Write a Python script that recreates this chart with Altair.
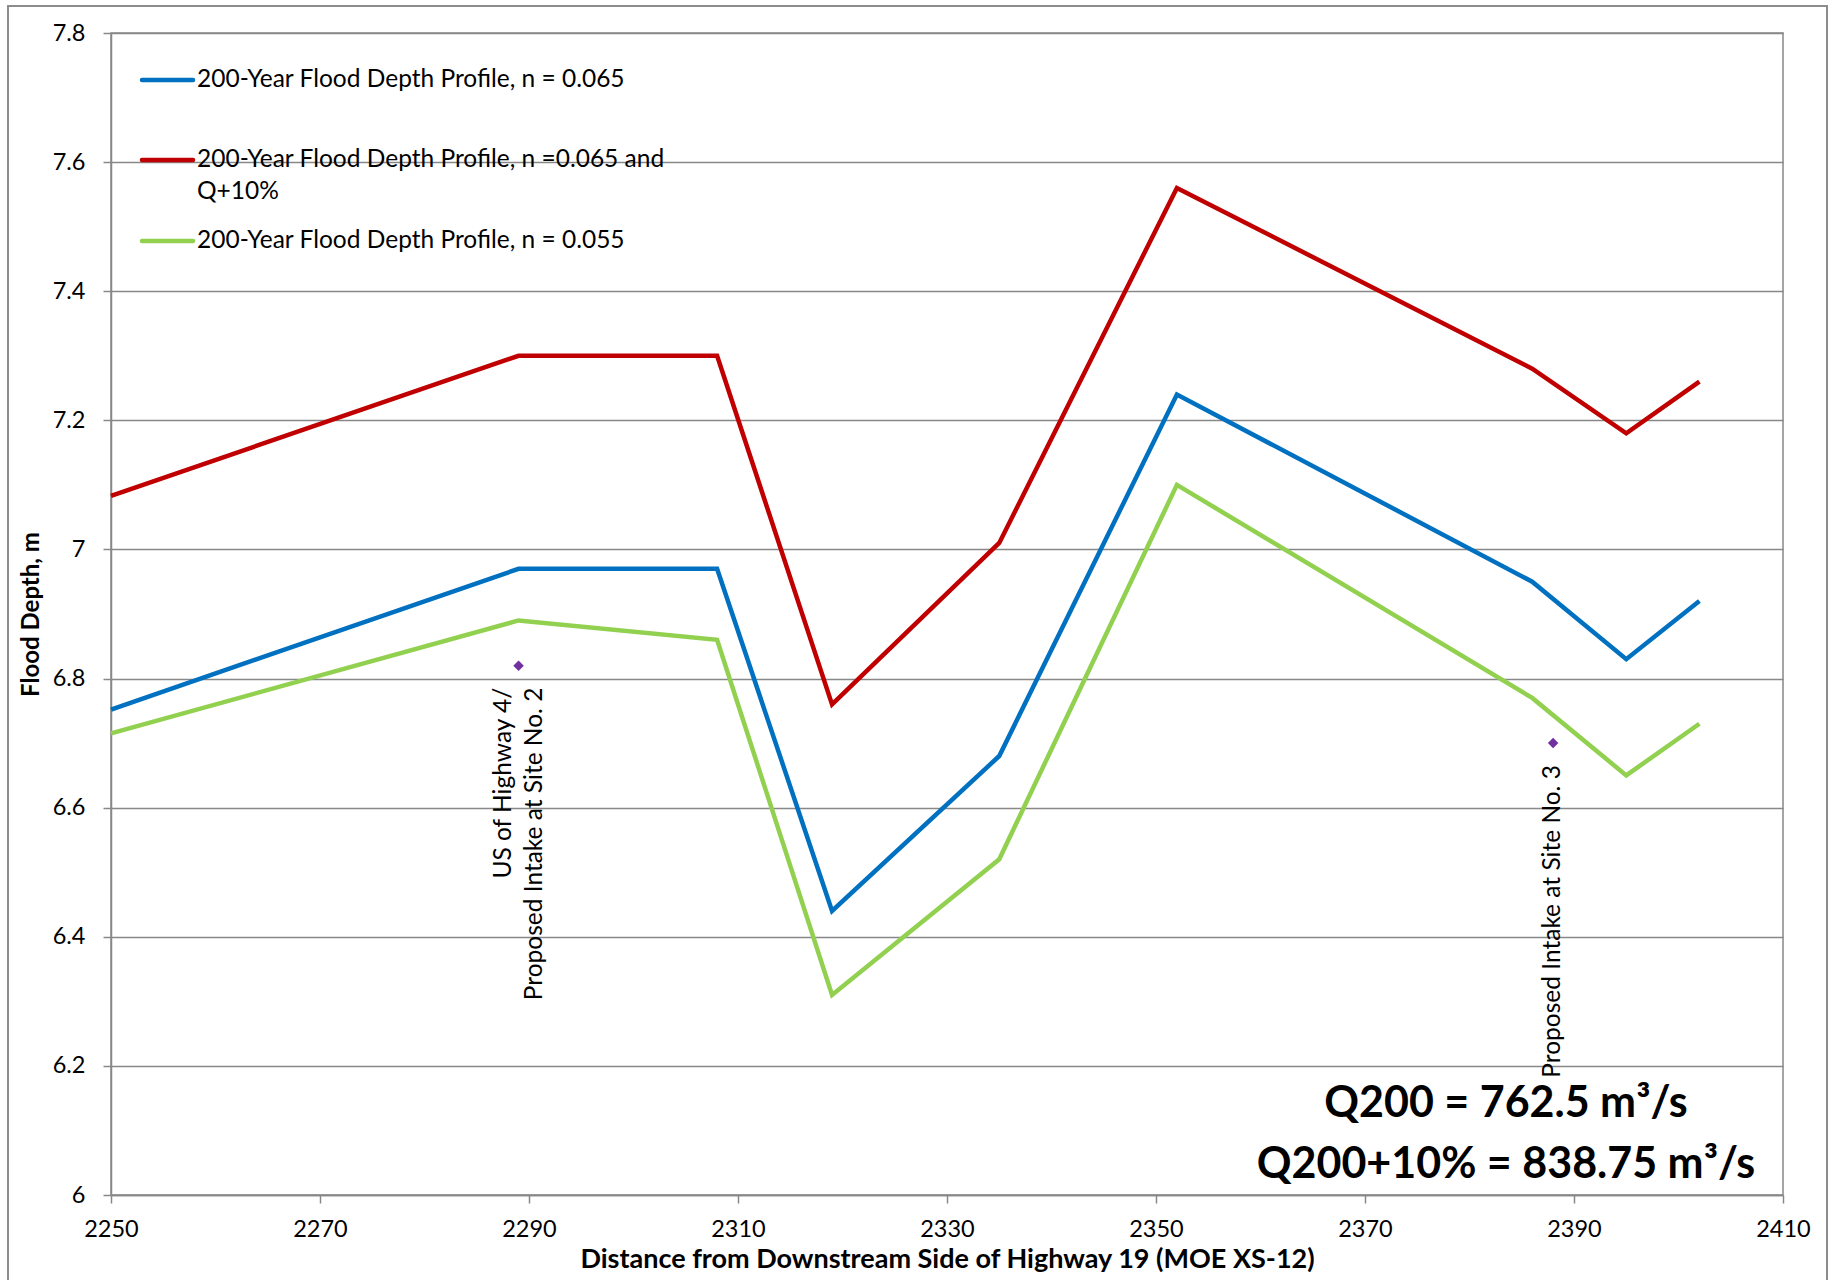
import altair as alt
import pandas as pd

# Flood depth profiles (distance in m, depth in m)
distance = [2250, 2289, 2308, 2319, 2335, 2352, 2386, 2395, 2402]
depth_n065 = [6.752, 6.97, 6.97, 6.44, 6.68, 7.24, 6.95, 6.83, 6.92]
depth_n065_q10 = [7.083, 7.30, 7.30, 6.76, 7.01, 7.56, 7.28, 7.18, 7.26]
depth_n055 = [6.715, 6.89, 6.86, 6.31, 6.52, 7.10, 6.77, 6.65, 6.73]

series_names = [
    "200-Year Flood Depth Profile, n = 0.065",
    "200-Year Flood Depth Profile, n =0.065 and Q+10%",
    "200-Year Flood Depth Profile, n = 0.055",
]
series_colors = ["#0070C0", "#C00000", "#92D050"]
legend_lines = [
    ["200-Year Flood Depth Profile, n = 0.065"],
    ["200-Year Flood Depth Profile, n =0.065 and", "Q+10%"],
    ["200-Year Flood Depth Profile, n = 0.055"],
]

# Site markers
site_x = [2289, 2388]
site_y = [6.82, 6.70]
site_labels = [
    ["US of Highway 4/", "Proposed Intake at Site No. 2"],
    ["Proposed Intake at Site No. 3"],
]

flow_lines = ["Q200 = 762.5 m³/s", "Q200+10% = 838.75 m³/s"]

x_ticks = list(range(2250, 2411, 20))
y_ticks = [6.0, 6.2, 6.4, 6.6, 6.8, 7.0, 7.2, 7.4, 7.6, 7.8]

FONT = "Lato"
GRID = "#888888"
W, H = 1672, 1162

rows = []
for name, vals in zip(series_names, [depth_n065, depth_n065_q10, depth_n055]):
    for d, v in zip(distance, vals):
        rows.append({"series": name, "distance": d, "depth": v})
profiles = pd.DataFrame(rows)

x_scale = alt.Scale(domain=[2250, 2410], nice=False, zero=False)
y_scale = alt.Scale(domain=[6.0, 7.8], nice=False, zero=False)

x_enc = alt.X(
    "distance:Q",
    scale=x_scale,
    axis=alt.Axis(
        values=x_ticks,
        format="d",
        title="Distance from Downstream Side of Highway 19 (MOE XS-12)",
        grid=False,
        tickSize=8,
        labelPadding=14,
        labelFlush=False,
        titlePadding=6,
    ),
)
y_enc = alt.Y(
    "depth:Q",
    scale=y_scale,
    axis=alt.Axis(
        values=y_ticks,
        format="~g",
        title="Flood Depth, m",
        grid=True,
        tickSize=8,
        labelPadding=18,
        labelFlush=False,
        titlePadding=9,
    ),
)

lines = (
    alt.Chart(profiles)
    .mark_line(strokeWidth=4.5, strokeJoin="miter")
    .encode(
        x=x_enc,
        y=y_enc,
        color=alt.Color(
            "series:N",
            scale=alt.Scale(domain=series_names, range=series_colors),
            legend=None,
        ),
        detail="series:N",
    )
)

sites = pd.DataFrame(
    {"site": [0, 1], "distance": site_x, "depth": site_y, "label": site_labels}
)

site_points = (
    alt.Chart(sites)
    .mark_point(shape="diamond", filled=True, size=110, color="#7030A0", opacity=1)
    .encode(x=alt.X("distance:Q", scale=x_scale), y=alt.Y("depth:Q", scale=y_scale))
)


def site_label(idx, shift):
    # rotated label under a site marker; shift centres multi-line blocks
    return (
        alt.Chart(sites)
        .transform_filter(alt.datum.site == idx)
        .mark_text(
            angle=270,
            align="right",
            baseline="middle",
            dx=-22,
            dy=shift,
            font=FONT,
            fontSize=24.5,
            lineHeight=31,
            color="#000000",
        )
        .encode(
            x=alt.X("distance:Q", scale=x_scale),
            y=alt.Y("depth:Q", scale=y_scale),
            text="label",
        )
    )


site_text_a = site_label(0, -15)
site_text_b = site_label(1, 0)

flow_df = pd.DataFrame({"text": [flow_lines]})
flow_text = (
    alt.Chart(flow_df)
    .mark_text(
        font=FONT,
        fontSize=43,
        fontWeight="bold",
        align="center",
        baseline="middle",
        lineHeight=61,
        color="#000000",
    )
    .encode(x=alt.value(1395), y=alt.value(1071), text="text")
)

# Legend drawn inside the plot area
legend_rows_y = [47, 127, 208]
legend_layers = []
for name, color, lbl, yy in zip(series_names, series_colors, legend_lines, legend_rows_y):
    ldf = pd.DataFrame({"series": [name], "label": [lbl]})
    legend_layers.append(
        alt.Chart(ldf)
        .mark_rule(strokeWidth=4.5, color=color, strokeCap="round")
        .encode(x=alt.value(31), x2=alt.value(82), y=alt.value(yy))
    )
    legend_layers.append(
        alt.Chart(ldf)
        .mark_text(
            font=FONT,
            fontSize=24.5,
            align="left",
            baseline="middle",
            lineHeight=32,
            color="#000000",
        )
        .encode(x=alt.value(86), y=alt.value(yy), text="label")
    )

# Outer frame around the whole figure
frame_df = pd.DataFrame({"k": [0]})
frame = (
    alt.Chart(frame_df)
    .mark_rect(fill=None, stroke="#8c8c8c", strokeWidth=2)
    .encode(
        x=alt.value(-103),
        x2=alt.value(1716),
        y=alt.value(-27),
        y2=alt.value(1300),
    )
)

chart = (
    alt.layer(
        frame, lines, site_points, site_text_a, site_text_b, flow_text, *legend_layers
    )
    .properties(
        width=W,
        height=H,
        autosize=alt.AutoSizeParams(type="none"),
        padding={"left": 111, "top": 33, "right": 50, "bottom": 85},
        background="#ffffff",
    )
    .configure_view(stroke=GRID, strokeWidth=1.5)
    .configure_axis(
        labelFont=FONT,
        titleFont=FONT,
        labelFontSize=23.5,
        labelColor="#000000",
        titleColor="#000000",
        domainColor=GRID,
        domainWidth=1.5,
        tickColor=GRID,
        tickWidth=1.5,
        gridColor=GRID,
        gridWidth=1.5,
        gridOpacity=1,
    )
    .configure_axisX(titleFontSize=27, titleFontWeight="bold")
    .configure_axisY(titleFontSize=24, titleFontWeight="bold")
)

chart.save("out.html", embed_options={"renderer": "svg", "actions": False})
